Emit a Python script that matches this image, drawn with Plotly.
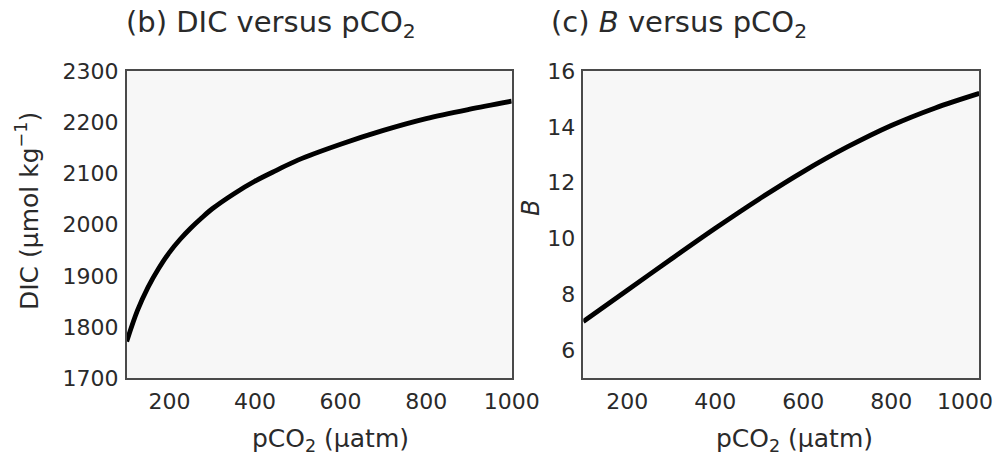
import plotly.graph_objects as go

# pCO2 (µatm) sample points for each panel
pco2_dic = [100, 125, 150, 175, 200, 225, 250, 275, 300, 350, 400, 450, 500, 600, 700, 800, 900, 1000]
dic_values = [1772, 1832, 1878, 1915, 1946, 1971.5, 1993.5, 2013, 2031, 2060, 2085, 2106, 2126,
              2157, 2184, 2207, 2225, 2241]

pco2_b = [100, 200, 300, 400, 500, 600, 700, 800, 900, 1000]
b_values = [7.03, 8.15, 9.27, 10.37, 11.42, 12.40, 13.28, 14.05, 14.68, 15.20]

x_ticks = [200, 400, 600, 800, 1000]
x_ticktext = ["200", "400", "600", "800", "1000"]
dic_ticks = [1700, 1800, 1900, 2000, 2100, 2200, 2300]
b_ticks = [6, 8, 10, 12, 14, 16]

W, H = 1003, 461
FONT = "DejaVu Sans"
TXT = "#2a2a2a"


def px(x):
    return x / W


def py(y):
    return 1 - y / H


fig = go.Figure()
fig.add_trace(go.Scatter(x=pco2_dic, y=dic_values, mode="lines",
                         line=dict(color="black", width=4.8, shape="spline", smoothing=0.9),
                         xaxis="x", yaxis="y", showlegend=False, hoverinfo="skip"))
fig.add_trace(go.Scatter(x=pco2_b, y=b_values, mode="lines",
                         line=dict(color="black", width=4.8, shape="spline", smoothing=0.9),
                         xaxis="x2", yaxis="y2", showlegend=False, hoverinfo="skip"))

axis_common = dict(showgrid=False, zeroline=False, showline=True, mirror=True,
                   linecolor="#4a4a4a", linewidth=1.5, ticks="", automargin=False,
                   ticklabeloverflow="allow",
                   tickfont=dict(family=FONT, size=22, color=TXT))

# the right panel's last x label is drawn separately, right-aligned so it stays on the page
x2_ticktext = x_ticktext[:-1] + [""]

y_top, y_bot = 71, 378.3
fig.update_layout(
    template="none",
    width=W, height=H,
    autosize=False,
    margin=dict(l=0, r=0, t=0, b=0, pad=0),
    paper_bgcolor="white",
    plot_bgcolor="#f7f7f7",
    xaxis=dict(domain=[px(126.7), px(511.7)], range=[100, 1000], tickvals=x_ticks,
               ticktext=x_ticktext, anchor="y", ticklabelstandoff=3, **axis_common),
    yaxis=dict(domain=[py(y_bot), py(y_top)], range=[1700, 2300], tickvals=dic_ticks,
               anchor="x", ticklabelstandoff=2, **axis_common),
    xaxis2=dict(domain=[px(583.3), px(979.3)], range=[100, 1000], tickvals=x_ticks,
                ticktext=x2_ticktext, anchor="y2", ticklabelstandoff=3, **axis_common),
    yaxis2=dict(domain=[py(y_bot), py(y_top)], range=[5, 16], tickvals=b_ticks,
                anchor="x2", ticklabelstandoff=2, **axis_common),
)

annotations = [
    dict(text="(b) DIC versus pCO<sub>2</sub>", x=px(124), y=py(24), xanchor="left",
         yanchor="middle", font=dict(family=FONT, size=29, color=TXT)),
    dict(text="(c) <i>B</i> versus pCO<sub>2</sub>", x=px(549), y=py(24), xanchor="left",
         yanchor="middle", font=dict(family=FONT, size=29, color=TXT)),
    dict(text="pCO<sub>2</sub> (µatm)", x=px(330), y=py(440), xanchor="center",
         yanchor="middle", font=dict(family=FONT, size=25, color=TXT)),
    dict(text="pCO<sub>2</sub> (µatm)", x=px(794), y=py(440), xanchor="center",
         yanchor="middle", font=dict(family=FONT, size=25, color=TXT)),
    dict(text="DIC (µmol kg<sup>−1</sup>)", x=px(27), y=py(211), xanchor="center",
         yanchor="middle", textangle=-90, font=dict(family=FONT, size=25, color=TXT)),
    dict(text="<i>B</i>", x=px(531), y=py(208), xanchor="center",
         yanchor="middle", textangle=-90, font=dict(family=FONT, size=24, color=TXT)),
    dict(text=x_ticktext[-1], x=x_ticks[-1], xref="x2", y=py(401), xanchor="right",
         xshift=16, yanchor="middle", font=dict(family=FONT, size=22, color=TXT)),
]
for a in annotations:
    a.setdefault("xref", "paper")
    a.update(yref="paper", showarrow=False)
fig.update_layout(annotations=annotations)

fig.write_html("out.html")
